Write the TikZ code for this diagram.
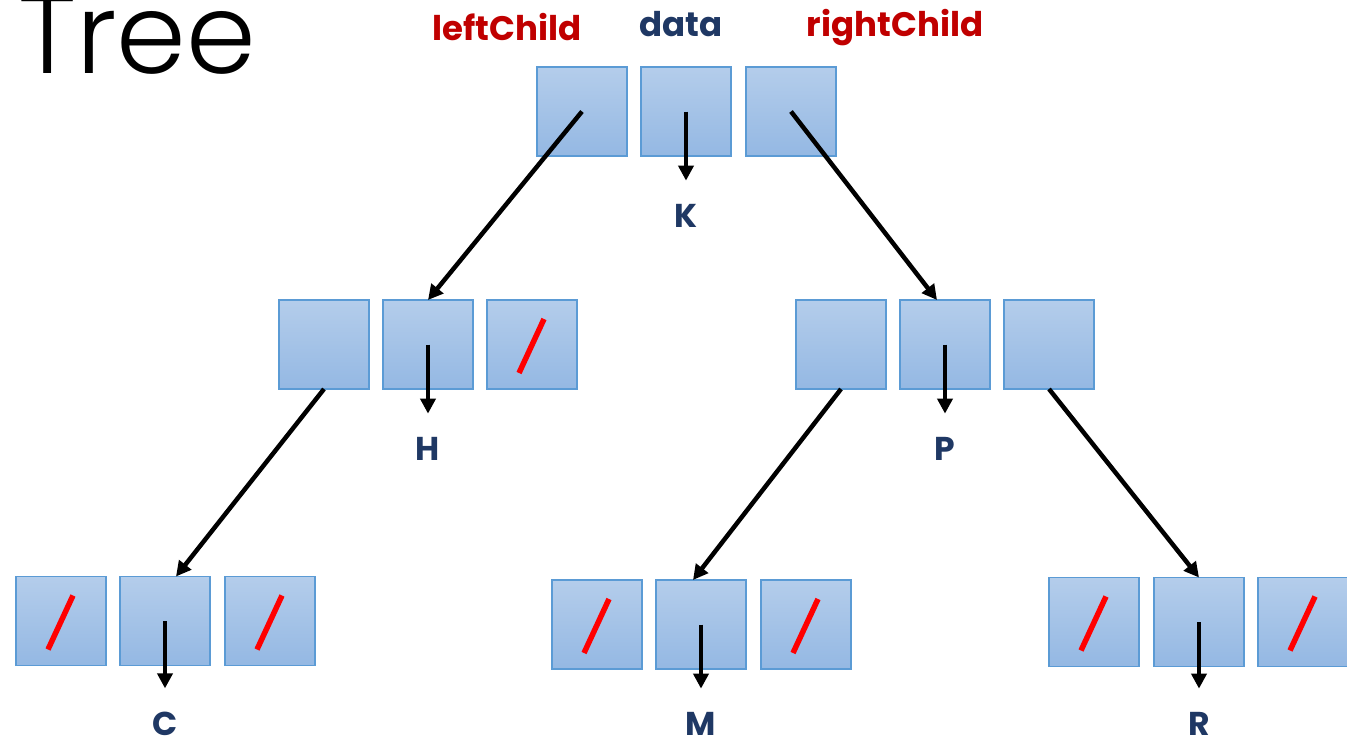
\documentclass[tikz,border=0pt]{standalone}
\usepackage{fontspec}
\setmainfont{Poppins}
\newfontfamily\titlefont{Poppins}[UprightFont=* Light]
\usetikzlibrary{arrows.meta,calc}

\definecolor{boxtop}{RGB}{180,205,235}
\definecolor{boxbot}{RGB}{148,184,227}
\definecolor{boxline}{RGB}{91,155,213}
\definecolor{fieldred}{RGB}{192,0,0}
\definecolor{navy}{RGB}{31,56,100}
\definecolor{nilred}{RGB}{255,0,0}

\tikzset{
  cell/.style={draw=boxline, line width=1.2pt, top color=boxtop, bottom color=boxbot,
    minimum width=90pt, minimum height=89pt, inner sep=0pt, outer sep=0pt},
  nil/.style={path picture={
    \draw[nilred, line width=5.5pt]
      ($(path picture bounding box.south west)+(32,-16)$) --
      ($(path picture bounding box.south west)+(57,-70)$);}},
  ptr/.style={line width=4.5pt, -{Triangle[width=15pt,length=15pt]}},
  val/.style={font=\bfseries\fontsize{33}{36}\selectfont, text=navy, inner sep=0pt, anchor=base},
  field/.style={font=\bfseries\fontsize{34}{38}\selectfont, inner sep=0pt, anchor=base},
}

\begin{document}
\begin{tikzpicture}[x=1pt,y=-1pt]
\useasboundingbox[fill=white] (0,0) rectangle (1347,744);

% title
\node[anchor=base west, inner sep=0pt, font=\titlefont\fontsize{112}{112}\selectfont] (title) at (18,73) {Tree};

% field names
\node[field, text=fieldred] (lc) at (507,40) {leftChild};
\node[field, text=navy] (dt) at (681,36) {data};
\node[field, text=fieldred] (rc) at (895,36) {rightChild};

% root K
\node[cell] (kl) at (582,111.5) {};
\node[cell] (kd) at (686,111.5) {};
\node[cell] (kr) at (791,111.5) {};
\node[val] (kv) at (686,227) {K};

% H
\node[cell] (hl) at (324,344.5) {};
\node[cell] (hd) at (428,344.5) {};
\node[cell,nil] (hr) at (532,344.5) {};
\node[val] (hv) at (428,460) {H};

% P
\node[cell] (pl) at (841,344.5) {};
\node[cell] (pd) at (945,344.5) {};
\node[cell] (pr) at (1049,344.5) {};
\node[val] (pv) at (945,460) {P};

% C
\node[cell,nil] (cl) at (61,621) {};
\node[cell] (cd) at (165,621) {};
\node[cell,nil] (cr) at (270,621) {};
\node[val] (cv) at (165,735) {C};

% M
\node[cell,nil] (ml) at (597,624.5) {};
\node[cell] (md) at (701,624.5) {};
\node[cell,nil] (mr) at (806,624.5) {};
\node[val] (mv) at (701,735) {M};

% R
\node[cell,nil] (rl) at (1094,622) {};
\node[cell] (rd) at (1199,622) {};
\node[cell,nil] (rr) at (1303,622) {};
\node[val] (rv) at (1199,735) {R};

% data pointers
\foreach \d/\v in {kd/kv, hd/hv, pd/pv, cd/cv, md/mv, rd/rv}
  \draw[ptr, shorten >=23pt] (\d.center) -- (\v);

% child pointers
\draw[ptr] (kl.center) -- (hd.north);
\draw[ptr] (kr.center) -- ([xshift=-8pt]pd.north);
\draw[ptr] (hl.south) -- ([xshift=11pt]cd.north);
\draw[ptr] (pl.south) -- ([xshift=-8pt]md.north);
\draw[ptr] (pr.south) -- (rd.north);
\end{tikzpicture}
\end{document}
